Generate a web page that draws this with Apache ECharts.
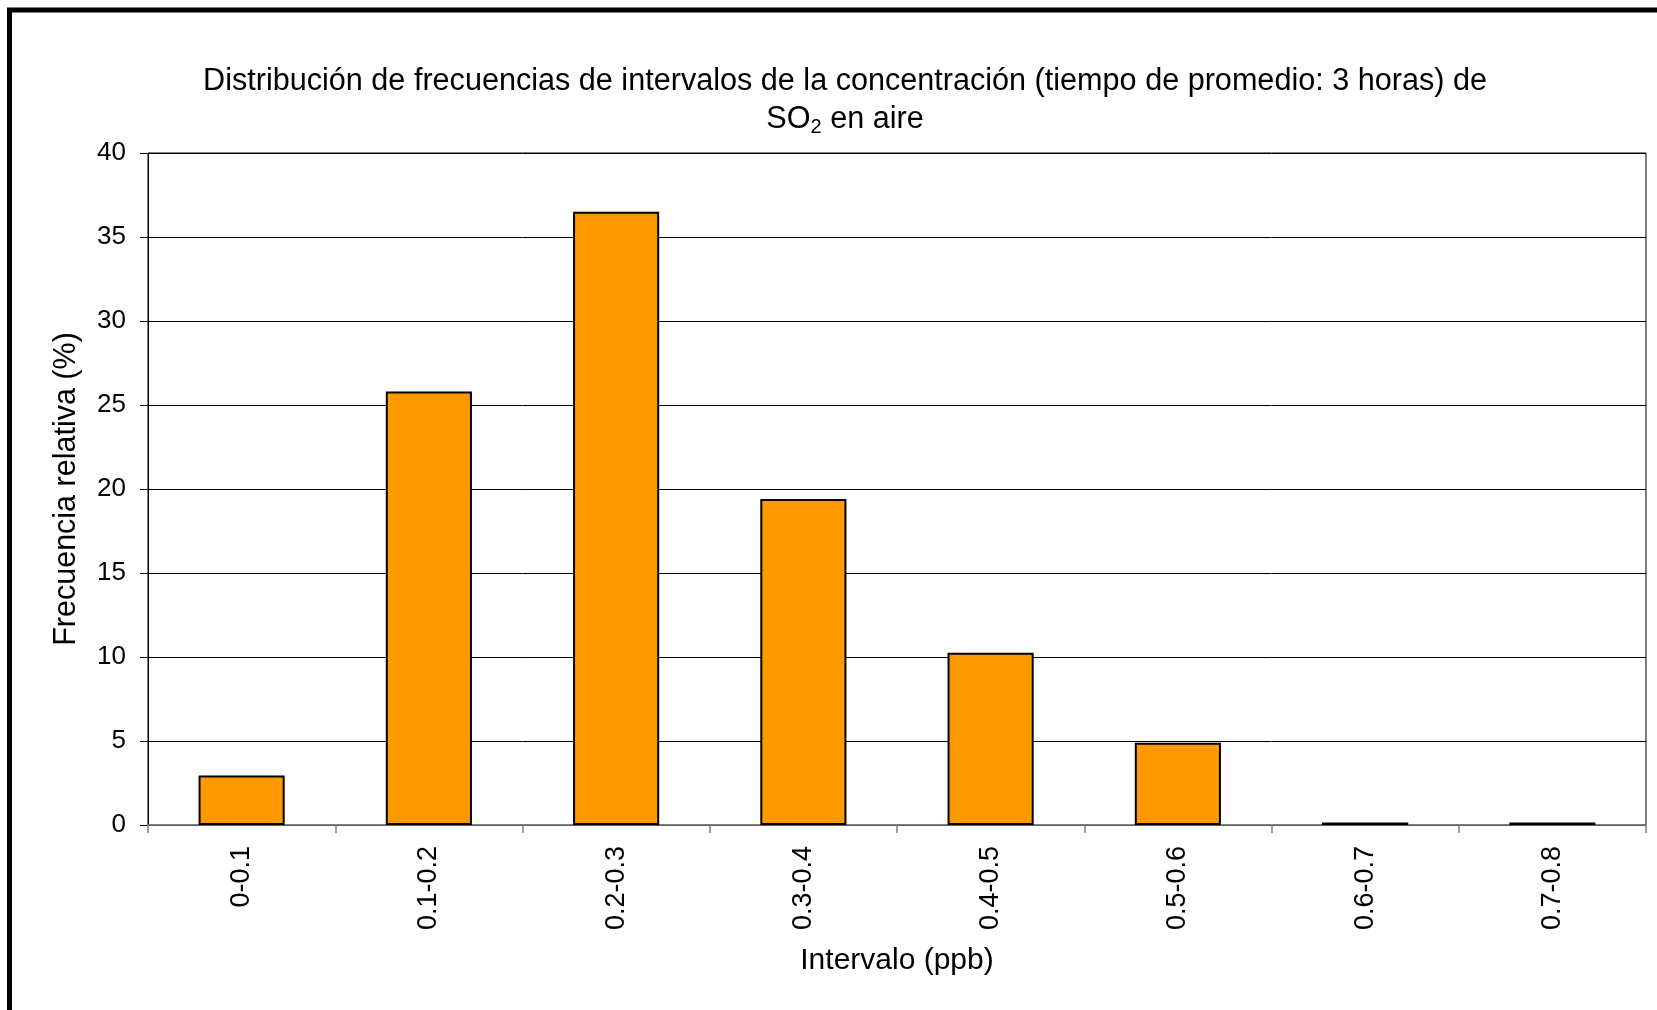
<!DOCTYPE html>
<html>
<head>
<meta charset="utf-8">
<script src="https://cdn.jsdelivr.net/npm/echarts@6/dist/echarts.min.js"></script>
<style>
html,body{margin:0;padding:0;background:#fff;}
#chart{width:1657px;height:1010px;}
</style>
</head>
<body>
<div id="chart"></div>
<script>
var categories = ['0-0.1','0.1-0.2','0.2-0.3','0.3-0.4','0.4-0.5','0.5-0.6','0.6-0.7','0.7-0.8'];
var frecuencia = [2.95, 25.8, 36.5, 19.4, 10.25, 4.9, 0.15, 0.15];
var yTicks = {min: 0, max: 40, interval: 5};

var FONT = 'Liberation Sans, Arial, sans-serif';
var chart = echarts.init(document.getElementById('chart'));
chart.setOption({
  animation: false,
  backgroundColor: '#fff',
  graphic: [{
    type: 'rect',
    shape: {x: 9.5, y: 10, width: 2000, height: 2000},
    style: {fill: 'none', stroke: '#000', lineWidth: 5},
    silent: true
  }],
  title: {
    left: 840,
    textAlign: 'center',
    top: 58,
    text: '{a|Distribución de frecuencias de intervalos de la concentración (tiempo de promedio: 3 horas) de}\n{a|SO}{sub|2}{a| en aire}',
    textStyle: {
      fontWeight: 'normal',
      rich: {
        a: {fontFamily: FONT, fontSize: 30.6, fontWeight: 'normal', color: '#000', lineHeight: 38},
        sub: {fontFamily: FONT, fontSize: 20, fontWeight: 'normal', color: '#000', lineHeight: 20, padding: [15, 0, 0, 0]}
      }
    }
  },
  grid: {
    left: 148, right: 11, top: 153, bottom: 185,
    show: true, borderColor: '#000', borderWidth: 1, backgroundColor: 'transparent'
  },
  xAxis: {
    type: 'category',
    data: categories,
    name: 'Intervalo (ppb)',
    nameLocation: 'middle',
    nameGap: 121,
    nameTextStyle: {fontFamily: FONT, fontSize: 30, color: '#000'},
    axisLine: {lineStyle: {color: '#808080', width: 1.5}},
    axisTick: {show: true, length: 8, lineStyle: {color: '#808080', width: 1.5}},
    axisLabel: {rotate: 90, margin: 21, fontFamily: FONT, fontSize: 27, color: '#000', interval: 0},
    splitLine: {show: false}
  },
  yAxis: {
    type: 'value',
    min: yTicks.min, max: yTicks.max, interval: yTicks.interval,
    name: 'Frecuencia relativa (%)',
    nameLocation: 'middle',
    nameGap: 66,
    nameTextStyle: {fontFamily: FONT, fontSize: 30.5, color: '#000'},
    axisLine: {show: true, lineStyle: {color: '#000', width: 1}},
    axisTick: {show: true, length: 8, lineStyle: {color: '#000', width: 1}},
    axisLabel: {margin: 22, fontFamily: FONT, fontSize: 26, color: '#000'},
    splitLine: {show: true, lineStyle: {color: '#000', width: 1}}
  },
  series: [{
    type: 'bar',
    data: frecuencia,
    barCategoryGap: '54%',
    itemStyle: {color: '#FF9900', borderColor: '#000', borderWidth: 2}
  }]
});
</script>
</body>
</html>
